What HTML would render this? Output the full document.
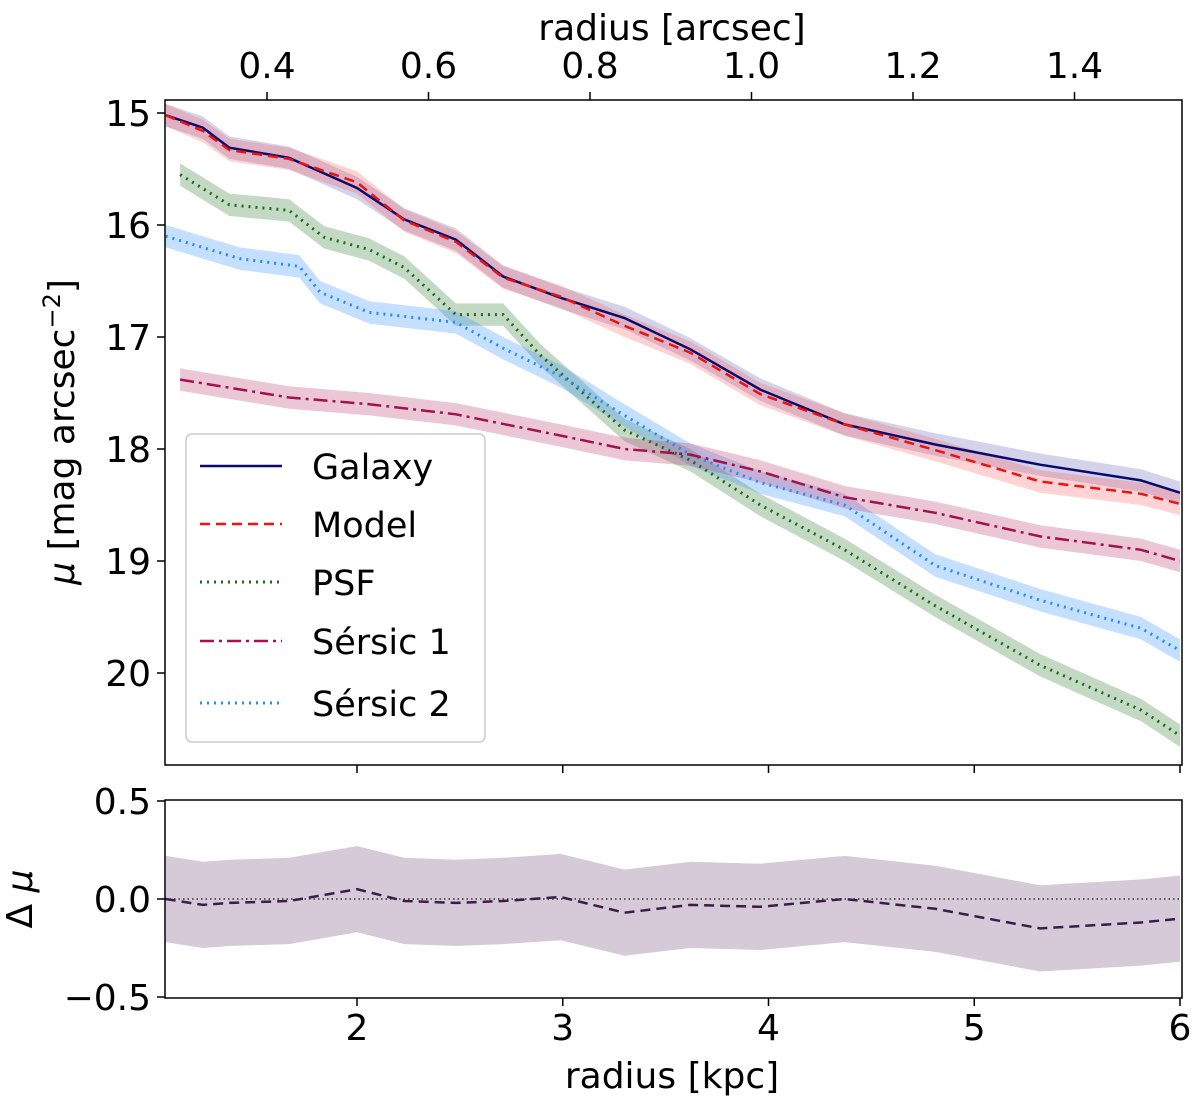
<!DOCTYPE html>
<html><head><meta charset="utf-8"><style>
body{margin:0;background:#fff;}
svg{display:block;font-family:"DejaVu Sans","Liberation Sans",sans-serif;}
</style></head><body>
<svg id="chart" width="1200" height="1107"></svg>
<script>
const xMain=[1.07,1.25,1.38,1.67,2.0,2.23,2.48,2.71,2.99,3.30,3.62,3.96,4.37,4.81,5.32,5.81,6.0];
const galaxy=[15.02,15.13,15.31,15.40,15.67,15.95,16.13,16.46,16.65,16.83,17.11,17.47,17.78,17.96,18.14,18.28,18.39];
const delta=[0.0,-0.03,-0.02,-0.01,0.05,-0.01,-0.02,-0.01,0.01,-0.07,-0.03,-0.04,0.0,-0.05,-0.15,-0.12,-0.1];
const xPsf=[1.14,1.38,1.67,1.84,2.06,2.23,2.48,2.71,2.89,3.30,3.62,3.96,4.37,4.81,5.32,5.81,6.0];
const psf=[15.55,15.82,15.87,16.11,16.22,16.38,16.8,16.8,17.16,17.83,18.1,18.5,18.9,19.4,19.93,20.33,20.56];
const xS2=[1.07,1.25,1.43,1.72,1.82,2.06,2.48,2.71,2.99,3.30,3.62,3.96,4.37,4.81,5.32,5.81,6.0];
const sersic2=[16.1,16.2,16.3,16.37,16.6,16.78,16.87,17.1,17.35,17.7,18.05,18.3,18.5,19.04,19.35,19.6,19.8];
const xS1=[1.14,1.67,2.06,2.48,2.99,3.30,3.62,3.96,4.37,4.81,5.32,5.81,6.0];
const sersic1=[17.38,17.54,17.6,17.69,17.88,18.0,18.05,18.2,18.43,18.57,18.78,18.9,19.0];
const bottomTicks=[2,3,4,5,6];
const yTicks=[15,16,17,18,19,20];
const arcTicks=[0.4,0.6,0.8,1.0,1.2,1.4];
const dTicks=[0.5,0.0,-0.5];
const model=galaxy.map((g,i)=>g-delta[i]);

const NS="http://www.w3.org/2000/svg";
const svg=document.getElementById('chart');
const L=165,R=1182,T=100,B=765,T2=800,B2=998;
const X=k=>357+(k-2)*205.75;
const A=a=>267+(a-0.4)*807.5;
const Y=m=>113+(m-15)*112;
const Yd=d=>899-d*196;
function el(tag,attrs,parent){const e=document.createElementNS(NS,tag);for(const k in attrs)e.setAttribute(k,attrs[k]);(parent||svg).appendChild(e);return e;}
function line(xs,ys,fx,fy){return xs.map((x,i)=>(i?'L':'M')+fx(x).toFixed(1)+','+fy(ys[i]).toFixed(1)).join('');}
function band(xs,ys,w,fx,fy){let up=xs.map((x,i)=>fx(x).toFixed(1)+','+fy(ys[i]-w).toFixed(1));let dn=xs.map((x,i)=>fx(x).toFixed(1)+','+fy(ys[i]+w).toFixed(1)).reverse();return 'M'+up.concat(dn).join('L')+'Z';}
const defs=el('defs',{});
const cp=el('clipPath',{id:'c1'},defs);el('rect',{x:L,y:T,width:R-L,height:B-T},cp);
const cp2=el('clipPath',{id:'c2'},defs);el('rect',{x:L,y:T2,width:R-L,height:B2-T2},cp2);
const g1=el('g',{'clip-path':'url(#c1)'});

const series=[
 ['psf',xPsf,psf,'#1a6e1a','rgba(60,130,60,0.3)','2,5',3],
 ['sersic2',xS2,sersic2,'#1e8fff','rgba(60,150,255,0.3)','2,5',3],
 ['sersic1',xS1,sersic1,'#a3124f','rgba(190,70,120,0.3)','14,5,3,5',2.5],
 ['galaxy',xMain,galaxy,'#0a0a6e','rgba(80,80,170,0.25)',null,2.5],
 ['model',xMain,model,'#ee1111','rgba(255,80,80,0.25)','10,6',2.5]];
series.forEach(s=>{
 const b=el('path',{d:band(s[1],s[2],0.1,X,Y),fill:s[4]},g1);
 
});
series.forEach(s=>{
 const a={d:line(s[1],s[2],X,Y),fill:'none',stroke:s[3],'stroke-width':s[6]};if(s[5])a['stroke-dasharray']=s[5];
 const p=el('path',a,g1);
 
});
const f1=el('rect',{x:L,y:T,width:R-L,height:B-T,fill:'none',stroke:'#000','stroke-width':1.5});

yTicks.forEach(v=>{el('line',{x1:L-8,x2:L,y1:Y(v),y2:Y(v),stroke:'#000','stroke-width':1.5});
 const t=el('text',{x:L-14,y:Y(v)+13,'text-anchor':'end','font-size':36},svg);t.textContent=v;
 });
bottomTicks.forEach(v=>{el('line',{x1:X(v),x2:X(v),y1:B,y2:B+8,stroke:'#000','stroke-width':1.5});});
arcTicks.forEach(v=>{el('line',{x1:A(v),x2:A(v),y1:T-8,y2:T,stroke:'#000','stroke-width':1.5});
 const t=el('text',{x:A(v),y:78,'text-anchor':'middle','font-size':36});t.textContent=v.toFixed(1);
 });
const lg=el('g',{});

el('rect',{x:186,y:434,width:299,height:308,rx:6,fill:'rgba(255,255,255,0.85)',stroke:'#ccc','stroke-width':1.5},lg);
const legItems=[['Galaxy',series[3]],['Model',series[4]],['PSF',series[0]],['Sérsic 1',series[2]],['Sérsic 2',series[1]]];
const legY=[466,524,582,641,703];
legItems.forEach((it,i)=>{const s=it[1];const a={x1:200,x2:282,y1:legY[i],y2:legY[i],stroke:s[3],'stroke-width':s[6]};if(s[5])a['stroke-dasharray']=s[5];
 const ln=el('line',a,lg);
 const t=el('text',{x:312,y:legY[i]+13,'font-size':35},lg);t.textContent=it[0];
 });
const g2=el('g',{'clip-path':'url(#c2)'});

const rb=el('path',{d:band(xMain,delta,0.22,X,Yd),fill:'rgba(120,80,130,0.3)'},g2);

el('line',{x1:L,x2:R,y1:Yd(0),y2:Yd(0),stroke:'#333','stroke-width':1.5,'stroke-dasharray':'1.5,3'},g2);
const rl=el('path',{d:line(xMain,delta,X,Yd),fill:'none',stroke:'#3b1c4a','stroke-width':2.5,'stroke-dasharray':'10,6'},g2);

const f2=el('rect',{x:L,y:T2,width:R-L,height:B2-T2,fill:'none',stroke:'#000','stroke-width':1.5});

dTicks.forEach(v=>{el('line',{x1:L-8,x2:L,y1:Yd(v),y2:Yd(v),stroke:'#000','stroke-width':1.5});
 const t=el('text',{x:L-14,y:Yd(v)+13,'text-anchor':'end','font-size':36});t.textContent=v===0?'0.0':(v<0?'\u2212'+Math.abs(v).toFixed(1):v.toFixed(1));
 });
bottomTicks.forEach(v=>{el('line',{x1:X(v),x2:X(v),y1:B2,y2:B2+8,stroke:'#000','stroke-width':1.5});
 const t=el('text',{x:X(v),y:1040,'text-anchor':'middle','font-size':36});t.textContent=v;
 });
function title(txt,x,y,rot,name){const t=el('text',{x:x,y:y,'text-anchor':'middle','font-size':36});if(rot)t.setAttribute('transform','rotate(-90 '+x+' '+y+')');t.innerHTML=txt;
 }
title('radius [kpc]',672,1088,false,'x-axis-title');
title('radius [arcsec]',672,40,false,'top-axis-title');
title('<tspan font-style="italic">μ</tspan> [mag arcsec<tspan dy="-14" font-size="24">−2</tspan><tspan dy="14">]</tspan>',74,432,true,'y-axis-title');
title('Δ <tspan font-style="italic">μ</tspan>',32,899,true,'residual-axis-title');
</script>
</body></html>
